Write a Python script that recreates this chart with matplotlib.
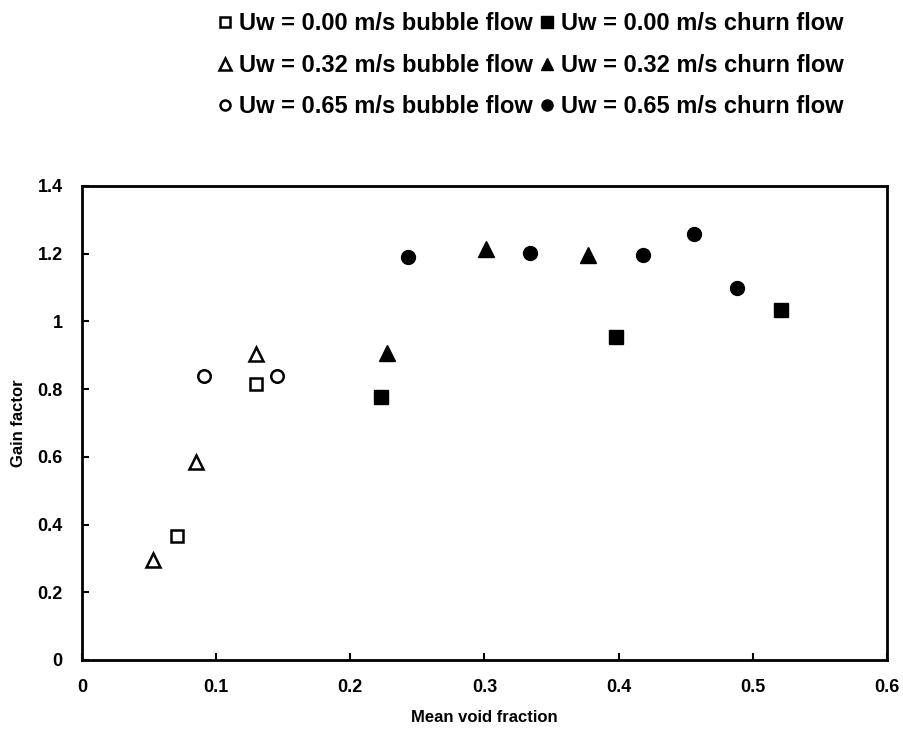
import matplotlib
matplotlib.use("Agg")
import matplotlib.pyplot as plt

plt.rcParams['font.family'] = ['Liberation Sans', 'DejaVu Sans']
plt.rcParams['font.weight'] = 'bold'

# Uw = 0.00 m/s
bub0_x = [0.071, 0.130]
bub0_y = [0.366, 0.815]
churn0_x = [0.223, 0.398, 0.521]
churn0_y = [0.778, 0.955, 1.034]

# Uw = 0.32 m/s
bub32_x = [0.053, 0.085, 0.130]
bub32_y = [0.295, 0.585, 0.905]
churn32_x = [0.227, 0.301, 0.377]
churn32_y = [0.908, 1.213, 1.195]

# Uw = 0.65 m/s
bub65_x = [0.091, 0.145]
bub65_y = [0.840, 0.840]
churn65_x = [0.243, 0.334, 0.418, 0.456, 0.488]
churn65_y = [1.189, 1.201, 1.195, 1.258, 1.100]

x_ticks = [0, 0.1, 0.2, 0.3, 0.4, 0.5, 0.6]
y_ticks = [0, 0.2, 0.4, 0.6, 0.8, 1.0, 1.2, 1.4]

fig = plt.figure(figsize=(9.04, 7.33), dpi=100)
ax = fig.add_axes([0.0907, 0.0996, 0.8905, 0.6467])

open_kw = dict(linestyle='none', markerfacecolor='white', markeredgecolor='black',
               markeredgewidth=1.8, color='black')
fill_kw = dict(linestyle='none', color='black')

h1, = ax.plot(bub0_x, bub0_y, marker='s', markersize=9, label='Uw = 0.00 m/s bubble flow', **open_kw)
h2, = ax.plot(churn0_x, churn0_y, marker='s', markersize=10, label='Uw = 0.00 m/s churn flow', **fill_kw)
h3, = ax.plot(bub32_x, bub32_y, marker='^', markersize=10, label='Uw = 0.32 m/s bubble flow', **open_kw)
h4, = ax.plot(churn32_x, churn32_y, marker='^', markersize=11, label='Uw = 0.32 m/s churn flow', **fill_kw)
h5, = ax.plot(bub65_x, bub65_y, marker='o', markersize=9, label='Uw = 0.65 m/s bubble flow', **open_kw)
h6, = ax.plot(churn65_x, churn65_y, marker='o', markersize=10, label='Uw = 0.65 m/s churn flow', **fill_kw)

ax.set_xlim(0, 0.6)
ax.set_ylim(0, 1.4)
ax.set_xticks(x_ticks)
ax.set_xticklabels(['0', '0.1', '0.2', '0.3', '0.4', '0.5', '0.6'])
ax.set_yticks(y_ticks)
ax.set_yticklabels(['0', '0.2', '0.4', '0.6', '0.8', '1', '1.2', '1.4'])
ax.tick_params(direction='in', length=5, width=1.5, labelsize=13, pad=14)
for s in ax.spines.values():
    s.set_linewidth(2)

ax.set_xlabel('Mean void fraction', fontsize=12, fontweight='bold', labelpad=10)
ax.set_ylabel('Gain factor', fontsize=12, fontweight='bold', labelpad=8)

order = [h1, h3, h5, h2, h4, h6]
fig.legend(order, [h.get_label() for h in order],
           ncol=2, loc='upper center', bbox_to_anchor=(0.587, 1.012),
           frameon=False, prop={'size': 17, 'weight': 'bold'},
           handlelength=0.6, handletextpad=0.3, columnspacing=0.3,
           labelspacing=0.78, markerscale=0.8)

fig.savefig('out.png', dpi=100)
